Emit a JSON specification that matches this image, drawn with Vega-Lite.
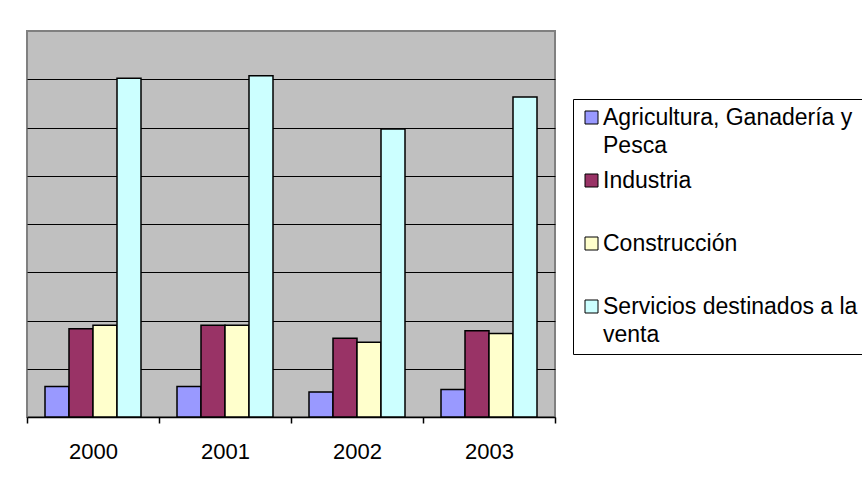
{
  "$schema": "https://vega.github.io/schema/vega-lite/v6.json",
  "width": 528,
  "height": 386,
  "padding": {"left": 26, "top": 31, "right": 0, "bottom": 0},
  "background": "white",
  "config": {
    "font": "Liberation Sans",
    "view": {"stroke": "#808080", "strokeWidth": 2, "fill": "#C0C0C0"}
  },
  "data": {
    "values": [
      {"year": "2000", "sector": "Agricultura, Ganadería y Pesca", "value": 0.63},
      {"year": "2000", "sector": "Industria", "value": 1.83},
      {"year": "2000", "sector": "Construcción", "value": 1.9},
      {"year": "2000", "sector": "Servicios destinados a la venta", "value": 7.02},
      {"year": "2001", "sector": "Agricultura, Ganadería y Pesca", "value": 0.63},
      {"year": "2001", "sector": "Industria", "value": 1.9},
      {"year": "2001", "sector": "Construcción", "value": 1.9},
      {"year": "2001", "sector": "Servicios destinados a la venta", "value": 7.07},
      {"year": "2002", "sector": "Agricultura, Ganadería y Pesca", "value": 0.52},
      {"year": "2002", "sector": "Industria", "value": 1.63},
      {"year": "2002", "sector": "Construcción", "value": 1.55},
      {"year": "2002", "sector": "Servicios destinados a la venta", "value": 5.97},
      {"year": "2003", "sector": "Agricultura, Ganadería y Pesca", "value": 0.57},
      {"year": "2003", "sector": "Industria", "value": 1.79},
      {"year": "2003", "sector": "Construcción", "value": 1.73},
      {"year": "2003", "sector": "Servicios destinados a la venta", "value": 6.63}
    ]
  },
  "mark": {"type": "bar", "stroke": "black", "strokeWidth": 1.5},
  "encoding": {
    "x": {
      "field": "year",
      "type": "nominal",
      "scale": {"paddingInner": 0, "paddingOuter": 0},
      "axis": {
        "title": null,
        "labelAngle": 0,
        "labelFontSize": 22,
        "labelColor": "black",
        "labelPadding": 18,
        "tickBand": "extent",
        "tickSize": 6,
        "tickColor": "black",
        "tickWidth": 1.5,
        "domainColor": "black",
        "domainWidth": 1.5,
        "grid": false
      }
    },
    "xOffset": {
      "field": "sector",
      "type": "nominal",
      "sort": ["Agricultura, Ganadería y Pesca", "Industria", "Construcción", "Servicios destinados a la venta"],
      "scale": {"paddingInner": 0, "paddingOuter": 0.75}
    },
    "y": {
      "field": "value",
      "type": "quantitative",
      "scale": {"domain": [0, 8], "nice": false},
      "axis": {
        "title": null,
        "labels": false,
        "ticks": false,
        "domain": false,
        "values": [1, 2, 3, 4, 5, 6, 7],
        "grid": true,
        "gridColor": "black",
        "gridWidth": 1.2,
        "gridOpacity": 1
      }
    },
    "color": {
      "field": "sector",
      "type": "nominal",
      "sort": ["Agricultura, Ganadería y Pesca", "Industria", "Construcción", "Servicios destinados a la venta"],
      "scale": {
        "domain": ["Agricultura, Ganadería y Pesca", "Industria", "Construcción", "Servicios destinados a la venta"],
        "range": ["#9999FF", "#993366", "#FFFFCC", "#CCFFFF"]
      },
      "legend": {
        "title": null,
        "orient": "none",
        "legendX": 546,
        "legendY": 68,
        "padding": 7,
        "strokeColor": "black",
        "fillColor": "white",
        "symbolType": "square",
        "symbolSize": 169,
        "symbolStrokeColor": "black",
        "symbolStrokeWidth": 1,
        "labelFontSize": 23,
        "labelColor": "black",
        "labelLimit": 0,
        "labelOffset": 0,
        "labelBaseline": "top",
        "gridAlign": "all",
        "rowPadding": 11,
        "labelExpr": "datum.label == 'Agricultura, Ganadería y Pesca' ? ['Agricultura, Ganadería y', 'Pesca'] : datum.label == 'Servicios destinados a la venta' ? ['Servicios destinados a la', 'venta'] : datum.label",
        "encode": {
          "labels": {"update": {"lineHeight": {"value": 28.5}, "dy": {"value": -11}}}
        }
      }
    }
  }
}
